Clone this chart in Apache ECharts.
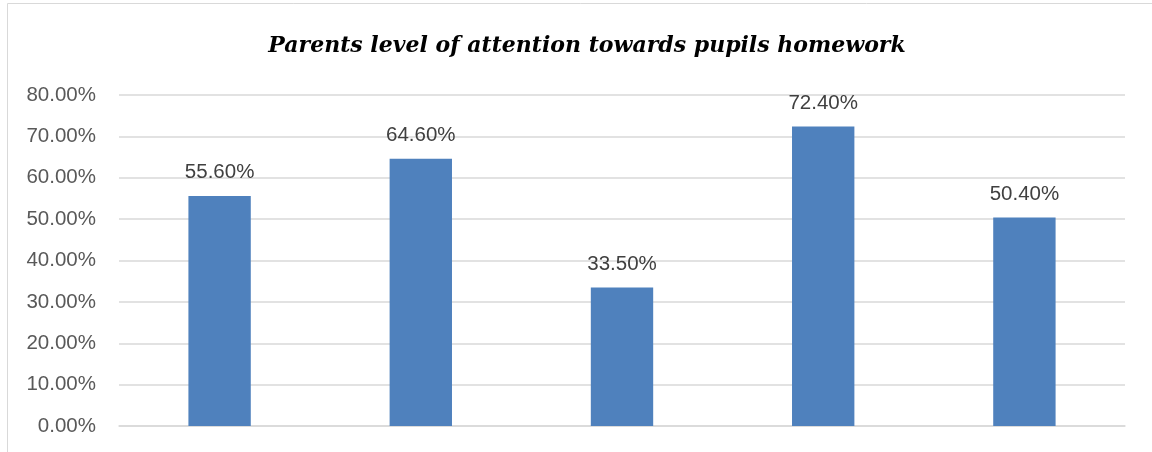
<!DOCTYPE html>
<html>
<head>
<meta charset="utf-8">
<script src="https://cdn.jsdelivr.net/npm/echarts@6/dist/echarts.min.js"></script>
<style>
  html, body { margin: 0; padding: 0; background: #fff; }
  #main { width: 1152px; height: 452px; }
</style>
</head>
<body>
<div id="main"></div>
<script>
// 数据
var categories = ['A', 'B', 'C', 'D', 'E'];
var values = [55.6, 64.6, 33.5, 72.4, 50.4];
var yTicks = { min: 0, max: 80, interval: 10 };

var chart = echarts.init(document.getElementById('main'));

var option = {
  animation: false,
  title: {
    text: 'Parents level of attention towards pupils homework',
    left: 582,
    textAlign: 'center',
    top: 30,
    textStyle: {
      fontFamily: 'DejaVu Serif',
      fontStyle: 'italic',
      fontWeight: 'bold',
      fontSize: 22,
      color: '#000'
    }
  },
  // 外框（右下被裁掉）
  graphic: [{
    type: 'rect',
    shape: { x: 7.5, y: 3.5, width: 1200, height: 500 },
    style: { fill: null, stroke: '#d9d9d9', lineWidth: 1 },
    silent: true
  }],
  grid: { left: 119, right: 27, top: 95, bottom: 26 },
  xAxis: {
    type: 'category',
    data: categories,
    axisLine: { lineStyle: { color: '#d9d9d9', width: 1.5 } },
    axisTick: { show: false },
    axisLabel: { show: false }
  },
  yAxis: {
    type: 'value',
    min: yTicks.min,
    max: yTicks.max,
    interval: yTicks.interval,
    axisLine: { show: false },
    axisTick: { show: false },
    splitLine: { lineStyle: { color: '#d9d9d9', width: 1.5 } },
    axisLabel: {
      margin: 23,
      fontFamily: 'Liberation Sans',
      fontSize: 20.5,
      color: '#595959',
      formatter: function (v) { return v.toFixed(2) + '%'; }
    }
  },
  series: [{
    type: 'bar',
    data: values,
    barWidth: '31%',
    itemStyle: { color: '#4f81bd' },
    label: {
      show: true,
      position: 'top',
      distance: 13,
      fontFamily: 'Liberation Sans',
      fontSize: 20.5,
      color: '#404040',
      formatter: function (p) { return p.value.toFixed(2) + '%'; }
    }
  }]
};

chart.setOption(option);
</script>
</body>
</html>
